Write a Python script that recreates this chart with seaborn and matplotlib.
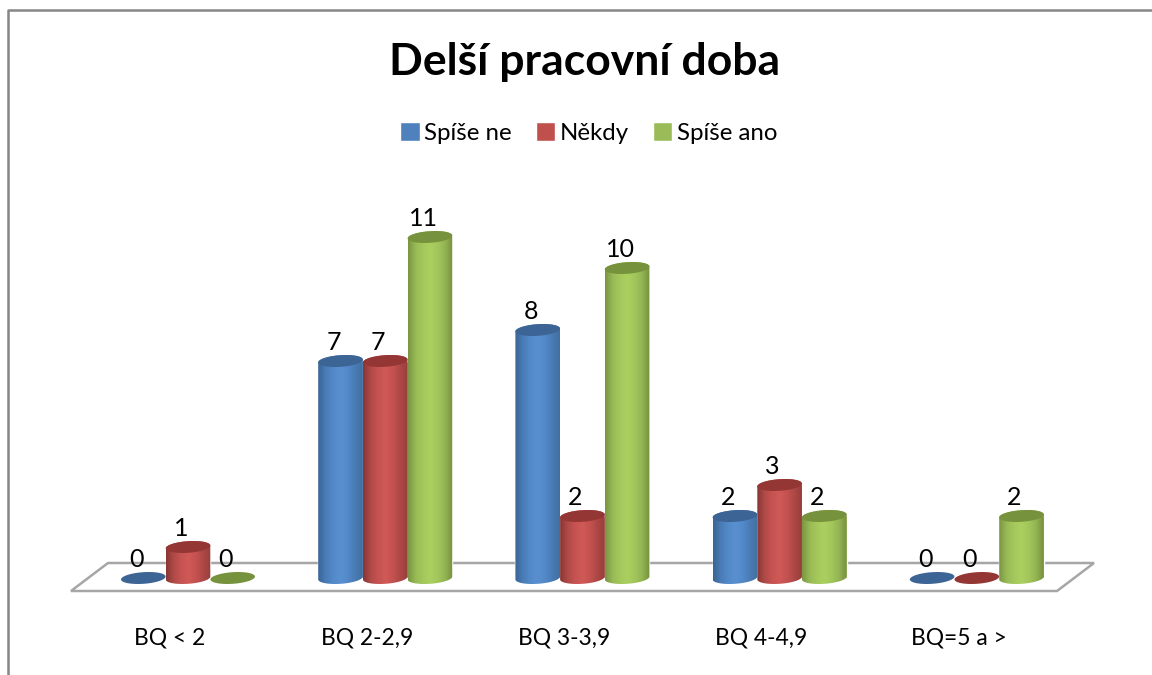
import numpy as np
import pandas as pd
import matplotlib
matplotlib.use('Agg')
import matplotlib.pyplot as plt
import seaborn as sns
from matplotlib.colors import LinearSegmentedColormap
from matplotlib.lines import Line2D
from matplotlib.patches import Polygon
from matplotlib.transforms import ScaledTranslation

# data
skupiny = ['BQ < 2', 'BQ 2-2,9', 'BQ 3-3,9', 'BQ 4-4,9', 'BQ=5 a >']
spise_ne = [0, 7, 8, 2, 0]
nekdy = [1, 7, 2, 3, 0]
spise_ano = [0, 11, 10, 2, 2]
odpovedi = ['Spíše ne', 'Někdy', 'Spíše ano']

barvy = ['#4f81bd', '#c0504d', '#9bbb59']
vrsek = ['#3c6494', '#943634', '#76923c']
prechody = [
    ['#3a6596', '#4a7cb6', '#5289c9', '#5a90d0', '#5289c8', '#4a7bb5', '#41709f'],
    ['#883735', '#b04a48', '#c65351', '#d05a58', '#c45250', '#ae4846', '#963f3d'],
    ['#7c9642', '#98ba56', '#a4c85c', '#abcf60', '#a2c65b', '#93b453', '#77903d'],
]

W, H = 1152, 675
sns.set_theme(style='white')
plt.rcParams['font.family'] = ['Lato', 'DejaVu Sans']


def px(x, y):
    # pixel in the picture -> figure fraction
    return x / W, 1 - y / H


def elipsa(cx, cy, a, b, sx, sy, od=0.0, do=2 * np.pi):
    # slightly tilted ellipse, size in pixels, centre in data units
    t = np.linspace(od, do, 60)
    u = np.radians(4)
    dx = a * np.cos(t) * np.cos(u) - b * np.sin(t) * np.sin(u)
    dy = a * np.cos(t) * np.sin(u) + b * np.sin(t) * np.cos(u)
    return np.column_stack([cx + dx / sx, cy + dy / sy])


df = pd.DataFrame({
    'skupina': skupiny * 3,
    'odpoved': np.repeat(odpovedi, len(skupiny)),
    'pocet': spise_ne + nekdy + spise_ano,
})

fig = plt.figure(figsize=(W / 100, H / 100), dpi=100)
ax_l, ax_r, ax_t, ax_b = 89.4, 1075.4, 206, 600
ax = fig.add_axes([ax_l / W, 1 - ax_b / H, (ax_r - ax_l) / W, (ax_b - ax_t) / H])
ax.patch.set_visible(False)

sns.barplot(data=df, x='skupina', y='pocet', hue='odpoved', palette=barvy,
            width=0.68, gap=0, saturation=1, ax=ax)
ax.set_xlim(-0.5, 4.5)
ax.set_ylim(-22 / 31, 12)
sx = (ax_r - ax_l) / 5
sy = (ax_b - ax_t) / (12 + 22 / 31)

# cylinders: gradient body and dark top over every seaborn bar
for i, cont in enumerate(ax.containers):
    cmap = LinearSegmentedColormap.from_list('c', prechody[i])
    for bar in cont:
        sirka = bar.get_width()
        cx = bar.get_x() + sirka / 2
        v = bar.get_height()
        a = sirka * sx / 2
        if v > 0:
            spodek = elipsa(cx, 0, a, 5.8, sx, sy, np.pi, 2 * np.pi)
            horni = elipsa(cx, v, a, 5.8, sx, sy, 0, np.pi)
            obrys = Polygon(np.vstack([spodek, horni]), transform=ax.transData)
            im = ax.imshow(np.linspace(0, 1, 64)[None, :], cmap=cmap, aspect='auto',
                           extent=(cx - sirka / 2, cx + sirka / 2, -1, v + 1),
                           zorder=2 + i)
            im.set_clip_path(obrys)
        ax.add_patch(Polygon(elipsa(cx, v, a, 5.8, sx, sy), closed=True,
                             facecolor=vrsek[i], edgecolor='none', zorder=2 + i))
    popisky = ax.bar_label(cont, fontsize=18, color='black', padding=5, zorder=10)
    for t in popisky:
        t.xyann = (-5, t.xyann[1])

ax.set_xlim(-0.5, 4.5)
ax.set_ylim(-22 / 31, 12)
ax.set_xlabel('')
ax.set_ylabel('')
ax.set_yticks([])
sns.despine(ax=ax, left=True, bottom=True)
ax.tick_params(axis='x', length=0, pad=19.5, labelsize=16.4)
posun = ScaledTranslation(-18 / 100, 0, fig.dpi_scale_trans)
for t in ax.get_xticklabels():
    t.set_transform(t.get_transform() + posun)
    t.set_color('black')

sns.move_legend(ax, 'center', bbox_to_anchor=px(589, 133), bbox_transform=fig.transFigure,
                ncol=3, frameon=False, title=None, fontsize=17.3, labelcolor='black',
                handlelength=0.8, handleheight=0.8, handletextpad=0.2, columnspacing=1.0)

fig.text(*px(584.5, 62.5), 'Delší pracovní doba', fontsize=32, fontweight='bold',
         ha='center', va='center', color='black')

# floor of the 3D chart, behind the axes
podlaha = [px(71, 591), px(1057, 591), px(1094, 563), px(108, 563)]
fig.add_artist(Polygon(podlaha, closed=True, transform=fig.transFigure, facecolor='white',
                       edgecolor='#a6a6a6', linewidth=1.8, zorder=-1))

# frame of the chart area, cut by the picture edge
fig.add_artist(Line2D([px(8, 0)[0], px(8, 0)[0], 1], [0, px(0, 10)[1], px(0, 10)[1]],
                      transform=fig.transFigure, color='#868686', linewidth=1.8, zorder=-1))

fig.savefig('out.png', dpi=100)
